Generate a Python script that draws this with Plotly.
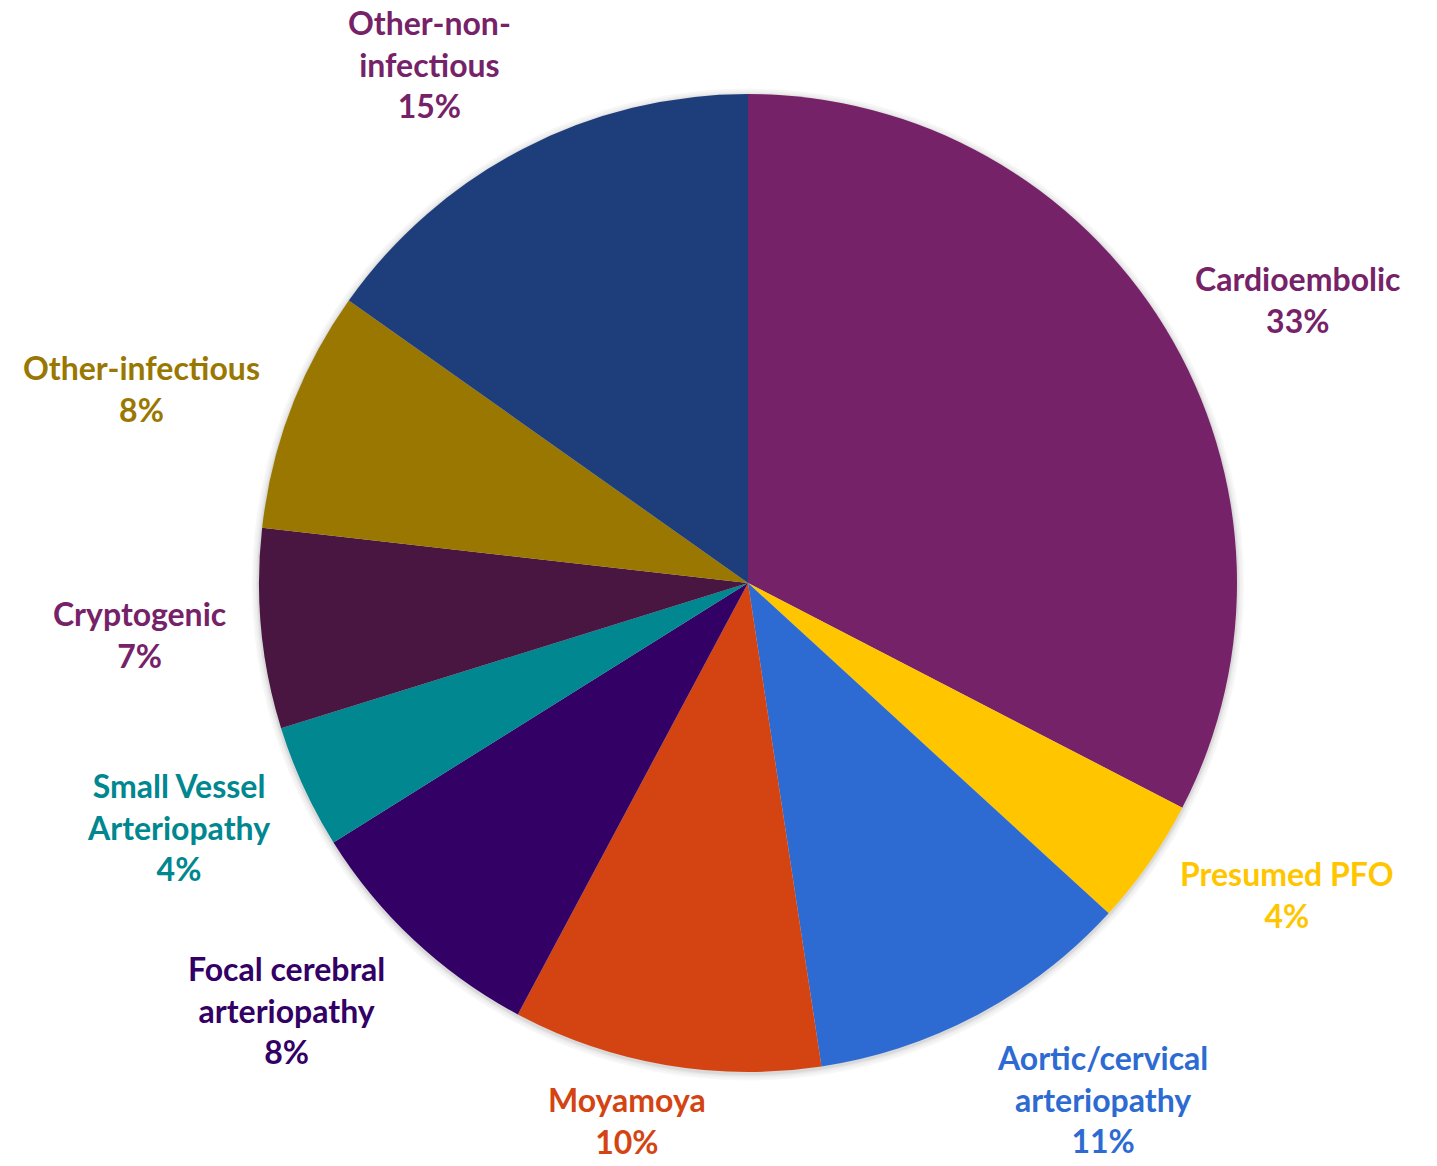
import math
import plotly.graph_objects as go

# ---- data ----
categories = ["Cardioembolic", "Presumed PFO", "Aortic/cervical arteriopathy", "Moyamoya",
              "Focal cerebral arteriopathy", "Small Vessel Arteriopathy", "Cryptogenic",
              "Other-infectious", "Other-non-infectious"]
values = [32.6, 4.2, 10.8, 10.2, 8.3, 4.1, 6.6, 8.0, 15.2]
label_text = ["Cardioembolic", "Presumed PFO", "Aortic/cervical<br>arteriopathy", "Moyamoya",
              "Focal cerebral<br>arteriopathy", "Small Vessel<br>Arteriopathy", "Cryptogenic",
              "Other-infectious", "Other-non-<br>infectious"]
slice_colors = ["#762268", "#FFC600", "#2D6BD2", "#D44412", "#330066", "#00878F",
                "#481641", "#997700", "#1E3E7B"]
text_colors = ["#762268", "#FFC600", "#2D6BD2", "#D44412", "#330066", "#00878F",
               "#762268", "#997700", "#762268"]

# ---- layout geometry ----
W, H = 1437, 1166
MT, MB = 80, 80
PH = H - MT - MB
CX, CY = 748, 583
R = 489
GAP = 33
FS = 32
LINE_H = 1.3 * FS
FONT = "Lato"


def char_w(c):
    if c in "ijl|.,:;'!":
        return 0.26
    if c in "frt-/":
        return 0.37
    if c in "mw":
        return 0.82
    if c == "%":
        return 0.82
    if c == " ":
        return 0.26
    if c.isupper():
        return 0.68
    return 0.55


def text_w(s):
    return max(sum(char_w(c) for c in line) for line in s.split("<br>")) * FS


def domain_for(radius, shift_down=0.0):
    cy = CY + shift_down
    y0 = (H - MB - (cy + radius)) / PH
    y1 = (H - MB - (cy - radius)) / PH
    half_w = radius * 1.2
    return dict(x=[(CX - half_w) / W, (CX + half_w) / W], y=[y0, y1])


total = sum(values)
annotations = []
cum = 0.0
for lab, v, col in zip(label_text, values, text_colors):
    mid = (cum + v / 2) / total * 2 * math.pi
    cum += v
    pct = round(v / total * 100)
    full = f"{lab}<br>{pct}%"
    s, c = math.sin(mid), math.cos(mid)
    px = CX + (R + GAP) * s
    py = CY - (R + GAP) * c
    w = text_w(full)
    nlines = full.count("<br>") + 1
    h = nlines * LINE_H
    fx = max(-1.0, min(1.0, 2.5 * s))
    fy = 0.55 if nlines <= 2 else 1.0
    cx = px + fx * w / 2
    cy = py - fy * c * h / 2
    annotations.append(dict(
        x=cx / W, y=(H - MB - cy) / PH, xref="paper", yref="paper",
        text=full, showarrow=False, xanchor="center", yanchor="middle",
        align="center", borderpad=0,
        font=dict(family=FONT, size=FS, color=col, weight="bold"),
    ))

fig = go.Figure()
# soft shadow rings behind the pie
for extra, shade in [(7, "#f7f7f7"), (5, "#f0f0f0"), (3, "#e6e6e6"), (1.5, "#d9d9d9")]:
    fig.add_trace(go.Pie(
        values=[1], labels=["shadow"], sort=False, textinfo="none", hoverinfo="skip",
        marker=dict(colors=[shade], line=dict(width=0)), showlegend=False,
        domain=domain_for(R + extra, shift_down=1.5),
    ))
fig.add_trace(go.Pie(
    labels=categories, values=values, sort=False, direction="clockwise", rotation=0,
    marker=dict(colors=slice_colors, line=dict(width=0)),
    textinfo="none", hoverinfo="label+percent", showlegend=False,
    domain=domain_for(R),
))
fig.update_layout(
    width=W, height=H, margin=dict(l=0, r=0, t=MT, b=MB),
    paper_bgcolor="white", plot_bgcolor="white",
    annotations=annotations,
)
fig.write_html("out.html")
